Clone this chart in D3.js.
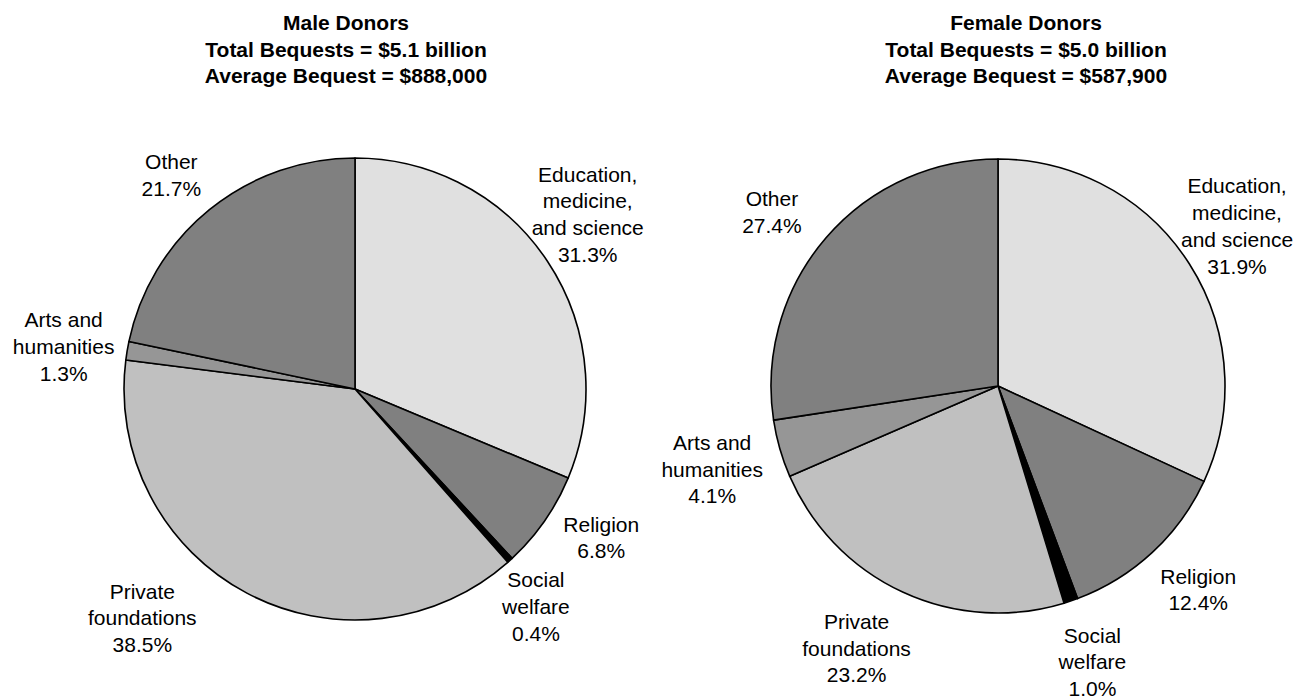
<!DOCTYPE html>
<html><head><meta charset="utf-8">
<script src="https://cdn.jsdelivr.net/npm/d3@7"></script>
<style>html,body{margin:0;padding:0;background:#fff;}svg{display:block;font-family:"Liberation Sans",Arial,sans-serif;}</style>
</head><body>
<svg id="c" width="1297" height="698"></svg>
<script>
// ---- data ----
const categories = ["Education,\nmedicine,\nand science", "Religion", "Social\nwelfare", "Private\nfoundations", "Arts and\nhumanities", "Other"];
const maleValues = [31.3, 6.8, 0.4, 38.5, 1.3, 21.7];
const femaleValues = [31.9, 12.4, 1.0, 23.2, 4.1, 27.4];
const maleTitle = ["Male Donors", "Total Bequests = $5.1 billion", "Average Bequest = $888,000"];
const femaleTitle = ["Female Donors", "Total Bequests = $5.0 billion", "Average Bequest = $587,900"];

// ---- styling / layout ----
const fills = ["#e0e0e0", "#808080", "#000000", "#c0c0c0", "#969696", "#808080"];
const maleLabelNudge = [[2,-21],[19,-10],[-5,12],[-83,-16],[-18,3.5],[-9,1]];
const femaleLabelNudge = [[9.5,-13],[15,4],[7,18],[-27,15],[-24,8],[-19.5,3.6]];

const svg = d3.select("#c");
const color = d3.scaleOrdinal().domain(categories).range(fills);
const pie = d3.pie().sort(null).value(d => d.v);

function drawPie(values, title, cx, cy, R, titleX, nudges) {
  const data = categories.map((c, i) => ({c, v: values[i], i}));
  const arcs = pie(data);
  const arc = d3.arc().innerRadius(0).outerRadius(R);
  const g = svg.append("g").attr("transform", `translate(${cx},${cy})`);
  g.selectAll("path").data(arcs).join("path")
    .attr("d", arc)
    .attr("fill", d => color(d.data.c))
    .attr("stroke", "#000")
    .attr("stroke-width", 1.6)
    .attr("stroke-linejoin", "round");
  const lr = R * 1.2;
  const labelArc = d3.arc().innerRadius(lr).outerRadius(lr);
  const lh = 26.8, fs = 21;
  arcs.forEach((a, i) => {
    const [x, y] = labelArc.centroid(a);
    const lines = a.data.c.split("\n").concat([a.data.v.toFixed(1) + "%"]);
    const n = lines.length;
    const bx = x + nudges[i][0], by = y + nudges[i][1];
    const t = g.append("text").attr("text-anchor", "middle").attr("font-size", fs).attr("fill", "#000");
    lines.forEach((ln, k) => {
      t.append("tspan").attr("x", bx).attr("y", by + (k - (n - 1) / 2) * lh + 0.35 * fs).text(ln);
    });
  });
  const tt = svg.append("text").attr("text-anchor", "middle").attr("font-size", 21).attr("font-weight", "bold");
  title.forEach((ln, k) => tt.append("tspan").attr("x", titleX).attr("y", 30 + k * 26.5).text(ln));
}

drawPie(maleValues, maleTitle, 355, 389, 231, 346, maleLabelNudge);
drawPie(femaleValues, femaleTitle, 998, 386, 227, 1026, femaleLabelNudge);
</script>
</body></html>
